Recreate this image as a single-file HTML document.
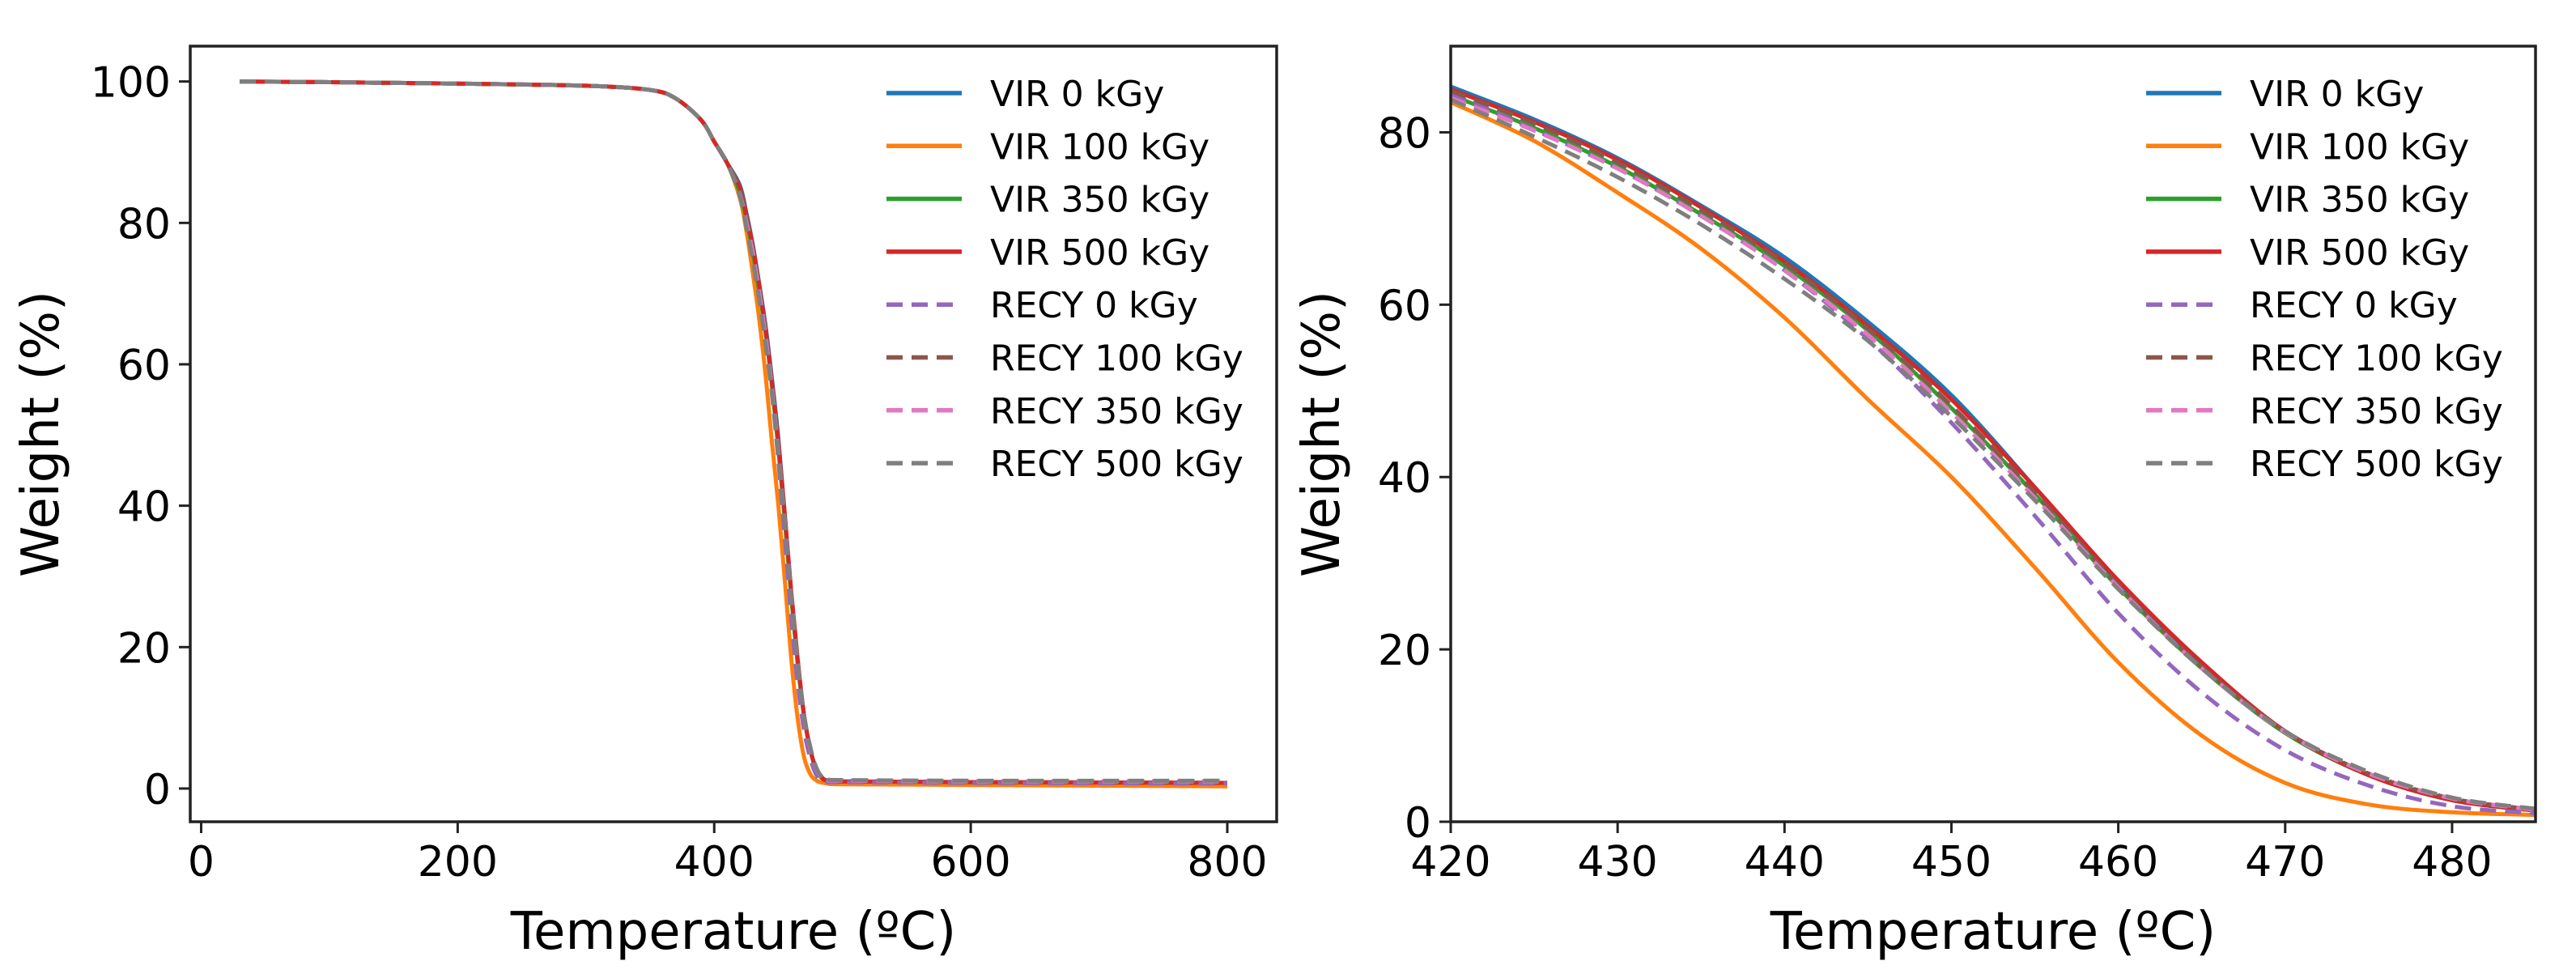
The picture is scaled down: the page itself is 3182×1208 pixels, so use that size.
<!DOCTYPE html>
<html><head><meta charset="utf-8"><style>
html,body{margin:0;padding:0;background:#fff;}
svg{display:block;font-family:"DejaVu Sans","Liberation Sans",sans-serif;}
</style></head><body>
<svg id="chart" width="3182" height="1208" viewBox="0 0 3182 1208" xmlns="http://www.w3.org/2000/svg">
<defs>
<clipPath id="clipL"><rect x="235" y="57" width="1342" height="958"/></clipPath>
<clipPath id="clipR"><rect x="1792" y="57" width="1340" height="958"/></clipPath>
</defs>
<g id="left"></g>
<g id="right"></g>
</svg>
<script>
const seriesNames = ["VIR 0 kGy","VIR 100 kGy","VIR 350 kGy","VIR 500 kGy","RECY 0 kGy","RECY 100 kGy","RECY 350 kGy","RECY 500 kGy"];
const seriesColors = ["#1f77b4","#ff7f0e","#2ca02c","#d62728","#9467bd","#8c564b","#e377c2","#7f7f7f"];
const seriesDashed = [false,false,false,false,true,true,true,true];

const tempFull = [30,100,200,300,350,370,390,400,410];
const weightEarly = [100,99.9,99.7,99.4,98.8,97.6,94.5,91.5,88.5];
const tempTail = [490,500,600,800];
const tailVIR0 = [1.1,1.0,0.9,0.8];
const tailVIR100 = [0.7,0.6,0.5,0.3];
const tailVIR350 = [1.1,1.0,0.9,0.8];
const tailVIR500 = [1.1,1.0,0.9,0.8];
const tailRECY0 = [0.9,0.9,0.8,0.7];
const tailRECY100 = [1.2,1.1,1.0,1.0];
const tailRECY350 = [1.2,1.1,1.0,1.0];
const tailRECY500 = [1.3,1.2,1.1,1.1];

const tempZoom = [420,425,430,435,440,445,450,455,460,465,470,475,480,485];
const wVIR0 = [85.3,81.5,77.0,71.5,65.5,58,49.5,38.8,27.5,18,10.5,5.5,2.6,1.4];
const wVIR100 = [83.5,79,73,66.5,58.5,49,40,29.5,18.5,10,4.5,2,1.1,0.8];
const wVIR350 = [84.3,80.5,76,70.5,64.5,57,48,38,27.2,17.8,10.3,5.4,2.5,1.3];
const wVIR500 = [85,81.2,76.8,71.3,65,57.5,49,38.8,28,18.5,10.5,5.4,2.5,1.3];
const wRECY0 = [84.5,80.3,75.8,70.3,64,56,46.3,35.5,24.2,15,8.3,4.2,1.8,1.0];
const wRECY100 = [84.8,81,76.5,71,64.8,57.2,48.3,38.2,27.5,18,10.5,5.6,2.7,1.4];
const wRECY350 = [84,80.2,75.8,70.3,64,56.5,47.5,37.6,27.2,17.8,10.4,5.6,2.7,1.4];
const wRECY500 = [83.8,79.5,74.8,69.3,63,55.8,47,37.3,27,17.8,10.5,5.8,2.8,1.5];

const xTicksL = [0,200,400,600,800];
const yTicksL = [0,20,40,60,80,100];
const xTicksR = [420,430,440,450,460,470,480];
const yTicksR = [0,20,40,60,80];

const zoomSeries = [wVIR0,wVIR100,wVIR350,wVIR500,wRECY0,wRECY100,wRECY350,wRECY500];
const tailSeries = [tailVIR0,tailVIR100,tailVIR350,tailVIR500,tailRECY0,tailRECY100,tailRECY350,tailRECY500];

const NS = "http://www.w3.org/2000/svg";
function mk(tag, attrs, parent){const e=document.createElementNS(NS,tag);for(const k in attrs)e.setAttribute(k,attrs[k]);parent.appendChild(e);return e;}
function scale(d0,d1,r0,r1){return v=>r0+(v-d0)/(d1-d0)*(r1-r0);}
function smoothPath(pts){
  let d="M"+pts[0][0].toFixed(1)+","+pts[0][1].toFixed(1);
  for(let i=0;i<pts.length-1;i++){
    const p0=pts[Math.max(0,i-1)],p1=pts[i],p2=pts[i+1],p3=pts[Math.min(pts.length-1,i+2)];
    const c1x=p1[0]+(p2[0]-p0[0])/6,c1y=p1[1]+(p2[1]-p0[1])/6;
    const c2x=p2[0]-(p3[0]-p1[0])/6,c2y=p2[1]-(p3[1]-p1[1])/6;
    d+=" C"+c1x.toFixed(1)+","+c1y.toFixed(1)+" "+c2x.toFixed(1)+","+c2y.toFixed(1)+" "+p2[0].toFixed(1)+","+p2[1].toFixed(1);
  }
  return d;
}

function panel(g, cfg){
  const x=scale(cfg.xmin,cfg.xmax,cfg.left,cfg.right);
  const y=scale(cfg.ymin,cfg.ymax,cfg.bottom,cfg.top);
  const lines=mk("g",{"clip-path":cfg.clip},g);
  
  
  cfg.series.forEach((s,i)=>{
    const pts=s.t.map((t,j)=>[x(t),y(s.w[j])]);
    const p=mk("path",{d:smoothPath(pts),fill:"none",stroke:seriesColors[i],"stroke-width":5,"stroke-linejoin":"round"},lines);
    if(seriesDashed[i])p.setAttribute("stroke-dasharray","20 11");
    
    
  });
  const frame=mk("rect",{x:cfg.left,y:cfg.top,width:cfg.right-cfg.left,height:cfg.bottom-cfg.top,fill:"none",stroke:"#222","stroke-width":3.5},g);
  
  
  cfg.xt.forEach(v=>{
    const xx=x(v);
    mk("line",{x1:xx,x2:xx,y1:cfg.bottom,y2:cfg.bottom+14,stroke:"#222","stroke-width":3},g);
    const t=mk("text",{x:xx,y:cfg.bottom+67,"font-size":52,"text-anchor":"middle",fill:"#000"},g);
    t.textContent=v;
    
    
  });
  cfg.yt.forEach(v=>{
    const yy=y(v);
    mk("line",{x1:cfg.left-14,x2:cfg.left,y1:yy,y2:yy,stroke:"#222","stroke-width":3},g);
    const t=mk("text",{x:cfg.left-24,y:yy+19,"font-size":52,"text-anchor":"end",fill:"#000"},g);
    t.textContent=v;
    
    
  });
  const xl=mk("text",{x:(cfg.left+cfg.right)/2,y:1172,"font-size":64,"text-anchor":"middle",fill:"#000"},g);
  xl.textContent="Temperature (\u00BAC)";
  
  
  const yl=mk("text",{x:0,y:0,"font-size":64,"text-anchor":"middle",fill:"#000",transform:"translate("+cfg.ylx+","+((cfg.top+cfg.bottom)/2)+") rotate(-90)"},g);
  yl.textContent="Weight (%)";
  
  
  const leg=mk("g",{},g);
  
  
  seriesNames.forEach((n,i)=>{
    const yy=115+i*65.3;
    const l=mk("line",{x1:cfg.legX,x2:cfg.legX+93,y1:yy,y2:yy,stroke:seriesColors[i],"stroke-width":5.5},leg);
    if(seriesDashed[i])l.setAttribute("stroke-dasharray","20 11");
    const t=mk("text",{x:cfg.legX+128,y:yy+16,"font-size":44,fill:"#000"},leg);
    t.textContent=n;
    
    
  });
}

const fullSeries=zoomSeries.map((w,i)=>({t:tempFull.concat(tempZoom,tempTail),w:weightEarly.concat(w,tailSeries[i])}));
const rSeries=zoomSeries.map(w=>({t:tempZoom,w:w}));

panel(document.getElementById("left"),{xmin:-8.5,xmax:838.5,ymin:-4.7,ymax:105,left:235,right:1577,top:57,bottom:1015,clip:"url(#clipL)",series:fullSeries,xt:xTicksL,yt:yTicksL,ylx:72,legX:1095});
panel(document.getElementById("right"),{xmin:420,xmax:485,ymin:0,ymax:90,left:1792,right:3132,top:57,bottom:1015,clip:"url(#clipR)",series:rSeries,xt:xTicksR,yt:yTicksR,ylx:1654,legX:2651});
</script>
</body></html>
